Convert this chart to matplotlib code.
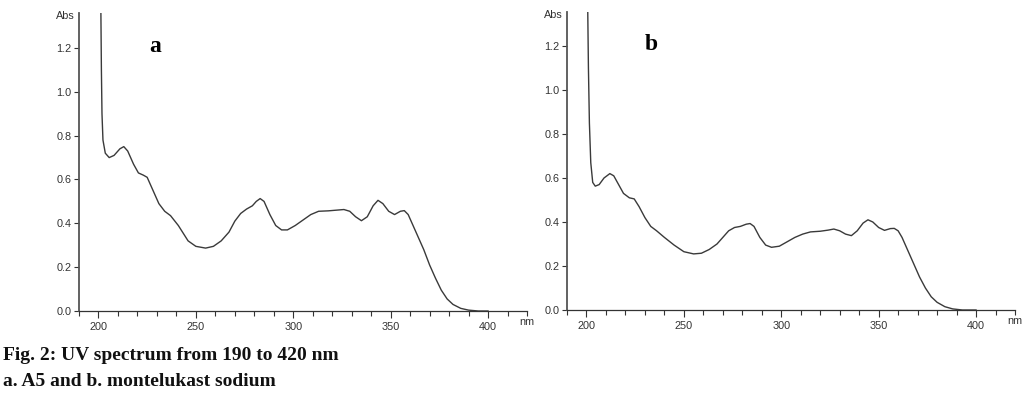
import matplotlib
matplotlib.use("Agg")
import matplotlib.pyplot as plt
import numpy as np

# ---- data: panel a (A5) ----
wl_a = [201.2, 201.5, 201.8, 202.3, 203.5, 205.5, 208, 211, 213, 215, 218, 220.5, 223, 225,
        228, 231, 234, 237, 241, 246, 250, 255, 259, 263, 267, 270, 273, 276, 279, 281, 283,
        285, 288, 291, 294, 297, 301, 305, 309, 313, 318, 322, 326, 329, 332, 335, 338, 341,
        343.5, 346, 349, 352, 355, 357, 359, 361, 364, 367, 370, 373, 376, 379, 382, 386,
        390, 395, 400]
abs_a = [1.40, 1.10, 0.90, 0.78, 0.72, 0.70, 0.71, 0.74, 0.75, 0.73, 0.67, 0.63, 0.62, 0.61,
         0.55, 0.49, 0.455, 0.435, 0.39, 0.32, 0.295, 0.287, 0.295, 0.32, 0.36, 0.41, 0.445,
         0.465, 0.48, 0.50, 0.513, 0.50, 0.44, 0.39, 0.37, 0.37, 0.39, 0.415, 0.44, 0.455,
         0.457, 0.46, 0.463, 0.455, 0.43, 0.412, 0.43, 0.48, 0.505, 0.49, 0.455, 0.44, 0.455,
         0.458, 0.44, 0.40, 0.34, 0.28, 0.21, 0.15, 0.095, 0.055, 0.03, 0.012, 0.004, 0.0, 0.0]

# ---- data: panel b (montelukast sodium) ----
wl_b = [200.6, 201.0, 201.5, 202.2, 203.2, 204.5, 206.5, 209, 212, 214, 216.5, 219, 222,
        224.5, 227, 230, 233, 236, 240, 245, 250, 255, 259, 263, 267, 270, 273, 276, 279,
        282, 284, 286, 289, 292, 295, 299, 303, 307, 311, 315, 320, 324, 327, 330, 333, 336,
        339, 342, 344.5, 347, 350, 353, 356, 358, 360, 362, 365, 368, 371, 374, 377, 380,
        384, 388, 393, 400]
abs_b = [1.40, 1.10, 0.85, 0.67, 0.58, 0.563, 0.57, 0.60, 0.62, 0.61, 0.57, 0.53, 0.51,
         0.505, 0.47, 0.42, 0.38, 0.36, 0.33, 0.295, 0.265, 0.255, 0.258, 0.275, 0.30, 0.33,
         0.36, 0.375, 0.38, 0.39, 0.393, 0.38, 0.33, 0.295, 0.285, 0.29, 0.31, 0.33, 0.345,
         0.355, 0.358, 0.363, 0.368, 0.36, 0.345, 0.338, 0.36, 0.395, 0.41, 0.40, 0.375,
         0.362, 0.37, 0.371, 0.36, 0.33, 0.27, 0.21, 0.15, 0.10, 0.06, 0.035, 0.015, 0.005,
         0.0, 0.0]

yticks = [0.0, 0.2, 0.4, 0.6, 0.8, 1.0, 1.2]
ytick_labels = ["0.0", "0.2", "0.4", "0.6", "0.8", "1.0", "1.2"]
xticks_major = [200, 250, 300, 350, 400]
xticks_minor = [190, 210, 220, 230, 240, 260, 270, 280, 290, 310, 320, 330, 340, 360, 370,
                380, 390, 410, 420]
panel_labels = ["a", "b"]
caption_lines = ["Fig. 2: UV spectrum from 190 to 420 nm", "a. A5 and b. montelukast sodium"]

W, H = 1026, 394
fig = plt.figure(figsize=(W / 100, H / 100), dpi=100)

def px_axes(left, right, bottom, top):
    return fig.add_axes([left / W, (H - bottom) / H, (right - left) / W, (bottom - top) / H])

axes_specs = [
    (79, 527, 311, 13, wl_a, abs_a, (155, 47)),
    (567, 1015, 310, 12, wl_b, abs_b, (651, 45)),
]

tick_font = dict(family=["Liberation Sans", "DejaVu Sans"], size=7.8, color="#333333")

for i, (l, r, b, t, wl, ab, lab) in enumerate(axes_specs):
    ax = px_axes(l, r, b, t)
    ax.plot(wl, ab, color="#3a3a3a", lw=1.0, clip_on=True)
    ax.set_xlim(190, 420)
    ax.set_ylim(0, 1.2 * (b - t) / (b - (46 if i else 48)))
    for s in ["top", "right"]:
        ax.spines[s].set_visible(False)
    ax.spines["left"].set_color("#555555")
    ax.spines["left"].set_linewidth(1.3)
    ax.spines["bottom"].set_color("#333333")
    ax.spines["bottom"].set_linewidth(0.9)
    ax.set_yticks(yticks)
    ax.set_yticklabels(ytick_labels, **tick_font)
    ax.set_xticks(xticks_major)
    ax.set_xticklabels([str(v) for v in xticks_major], **tick_font)
    ax.set_xticks(xticks_minor, minor=True)
    ax.tick_params(axis="y", direction="out", length=3.5, width=0.8, color="#333333", pad=2)
    ax.tick_params(axis="x", which="major", direction="out", length=5, width=0.8,
                   color="#333333", pad=3)
    ax.tick_params(axis="x", which="minor", direction="out", length=3.5, width=0.8,
                   color="#333333")
    ax.patch.set_alpha(0)
    # axis unit labels
    ax.text(-0.01, 0.99, "Abs", transform=ax.transAxes, ha="right", va="center",
            **tick_font)
    ax.annotate("nm", xy=(1.0, 0.0), xycoords="axes fraction", xytext=(0, -11),
                textcoords="offset pixels", ha="center", va="center", **tick_font)
    fig.text(lab[0] / W, 1 - lab[1] / H, panel_labels[i], ha="center", va="center",
             family=["Liberation Serif", "DejaVu Serif"], weight="bold", size=17)

fig.text(3 / W, 1 - 355 / H, caption_lines[0], ha="left", va="center",
         family=["Liberation Serif", "DejaVu Serif"], weight="bold", size=14, color="#111111")
fig.text(3 / W, 1 - 381 / H, caption_lines[1], ha="left", va="center",
         family=["Liberation Serif", "DejaVu Serif"], weight="bold", size=14, color="#111111")

fig.savefig("out.png", dpi=100)
